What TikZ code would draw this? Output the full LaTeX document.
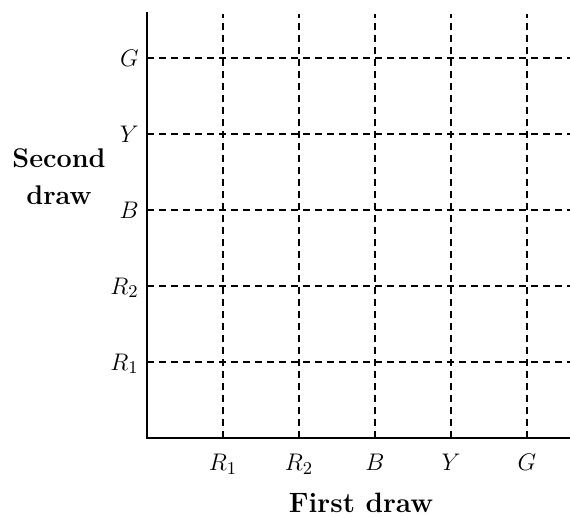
\documentclass[tikz,border=0pt]{standalone}
\usepackage{amsmath}
\usepackage{tikz}
\usetikzlibrary{calc}

\begin{document}
\begin{tikzpicture}[x=1.3355cm,y=1.3355cm,
    axis/.style={line width=0.9pt},
    gridline/.style={line width=0.6pt,dash pattern=on 3.5pt off 2.5pt},
    xlab/.style={anchor=base,inner sep=0pt,font=\fontsize{13}{15}\selectfont},
    ylab/.style={anchor=base east,inner sep=0pt,font=\fontsize{13}{15}\selectfont},
    title/.style={font=\fontsize{13.5}{18.5}\selectfont\bfseries,align=center,inner sep=0pt}]
    \useasboundingbox (-1.934,-1.039) rectangle (5.592,5.764);

    % Axes
    \coordinate (O) at (0,0);
    \coordinate (ytop) at (0,5.605);
    \coordinate (xend) at (5.566,0);
    \draw[axis] (ytop) -- (O) -- (xend);

    % Grid of outcomes
    \foreach \lab [count=\i] in {R_1,R_2,B,Y,G} {
        \draw[gridline] (\i,0) -- (\i,5.58);
        \draw[gridline] (0,\i) -- (5.566,\i);
        \node[xlab] (x\i) at (\i,-0.43) {$\lab$};
        \node[ylab] (y\i) at (-0.105,\i-0.105) {$\lab$};
    }

    % Axis titles
    \node[title] (second) at (-1.158,3.44) {Second\\draw};
    \node[title,font=\fontsize{14}{16}\selectfont\bfseries,anchor=base] (first) at (2.816,-0.975) {First draw};
\end{tikzpicture}
\end{document}
